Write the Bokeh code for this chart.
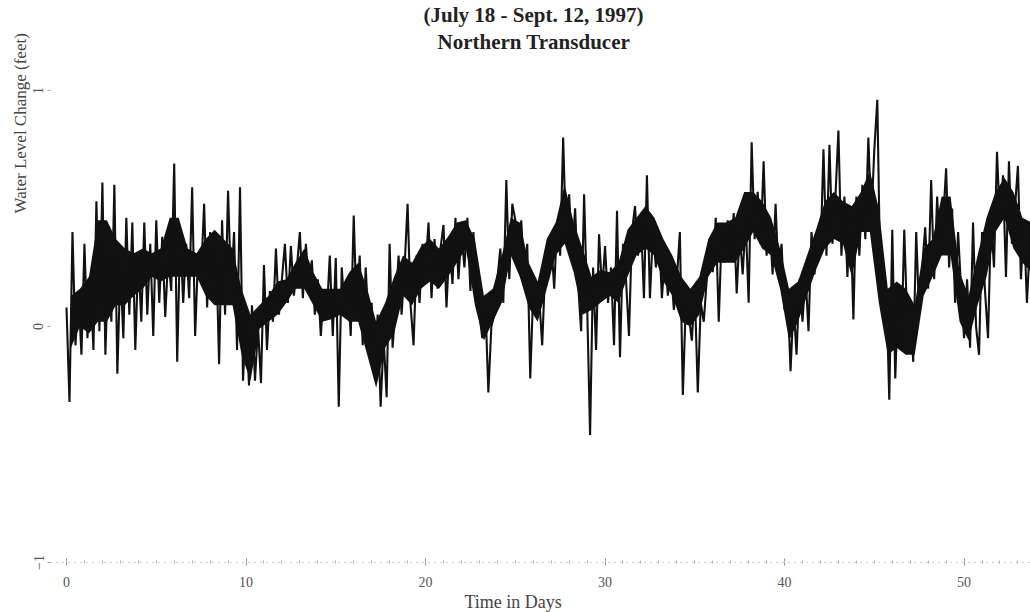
from bokeh.plotting import figure
from bokeh.models import FixedTicker, Range1d, Title
from bokeh.embed import file_html
from bokeh.resources import INLINE

# Water level change (feet), six readings per day (every 4 hours)
level_by_day = [
    [0.08, -0.32, 0.40, -0.08, 0.14, -0.12],   # day 0
    [0.35, -0.05, 0.20, -0.10, 0.53, -0.02],
    [0.61, -0.12, 0.30, 0.02, 0.60, -0.20],
    [0.25, -0.05, 0.46, 0.05, 0.44, -0.10],
    [0.30, 0.02, 0.44, 0.05, 0.35, -0.04],
    [0.45, 0.10, 0.38, 0.04, 0.30, 0.15],
    [0.69, -0.15, 0.40, 0.10, 0.35, 0.12],
    [0.59, -0.04, 0.31, 0.22, 0.52, 0.08],
    [0.40, 0.10, 0.35, -0.16, 0.45, 0.05],
    [0.575, 0.15, 0.40, -0.10, 0.59, -0.23],
    [0.05, -0.25, 0.09, -0.23, 0.00, -0.24],   # day 10
    [0.26, -0.10, 0.15, 0.02, 0.33, 0.05],
    [0.20, 0.35, 0.10, 0.34, 0.13, 0.25],
    [0.40, 0.12, 0.35, 0.18, 0.28, 0.05],
    [0.20, -0.04, 0.15, 0.05, 0.30, -0.04],
    [0.29, -0.34, 0.25, 0.05, 0.20, -0.04],
    [0.47, 0.05, 0.30, -0.08, 0.25, 0.00],
    [0.10, -0.20, 0.05, -0.34, -0.05, -0.30],
    [0.35, -0.09, 0.10, 0.30, 0.05, 0.25],
    [0.52, 0.09, -0.08, 0.30, 0.10, 0.35],
    [0.25, 0.44, 0.12, 0.37, 0.16, 0.33],      # day 20
    [0.43, 0.08, 0.35, 0.18, 0.46, 0.20],
    [0.40, 0.25, 0.46, 0.15, 0.40, 0.15],
    [0.05, -0.05, 0.10, -0.28, 0.00, 0.05],
    [0.20, 0.33, 0.10, 0.62, 0.20, 0.52],
    [0.45, 0.30, 0.45, 0.20, 0.35, -0.22],
    [0.15, 0.05, 0.12, -0.08, 0.25, 0.20],
    [0.37, 0.16, 0.44, 0.30, 0.80, 0.35],
    [0.56, 0.30, 0.50, 0.18, -0.02, 0.56],
    [0.10, -0.46, 0.25, -0.10, 0.39, 0.15],
    [0.34, 0.10, 0.25, -0.08, 0.49, -0.13],    # day 30
    [0.35, 0.20, -0.04, 0.40, 0.51, 0.30],
    [0.45, 0.12, 0.64, 0.12, 0.40, 0.25],
    [0.40, 0.12, 0.30, 0.13, 0.25, 0.07],
    [0.20, 0.40, -0.29, 0.10, 0.05, -0.06],
    [0.15, -0.28, 0.10, 0.02, 0.20, 0.37],
    [0.23, 0.46, 0.02, 0.40, 0.27, 0.45],
    [0.30, 0.48, 0.14, 0.40, 0.22, 0.45],
    [0.10, 0.78, 0.37, 0.57, 0.35, 0.70],
    [0.30, 0.45, 0.22, 0.52, 0.20, 0.35],
    [0.07, 0.15, -0.19, 0.10, -0.12, 0.20],    # day 40
    [0.02, 0.22, -0.02, 0.40, 0.22, 0.38],
    [0.30, 0.75, 0.30, 0.77, 0.35, 0.55],
    [0.83, 0.30, 0.55, 0.21, 0.50, 0.03],
    [0.55, 0.30, 0.60, 0.37, 0.80, 0.45],
    [0.75, 0.96, 0.20, 0.02, 0.16, -0.31],
    [0.41, -0.22, 0.15, -0.10, 0.41, 0.02],
    [0.09, -0.15, 0.40, 0.05, 0.25, 0.42],
    [0.16, 0.62, 0.20, 0.55, 0.30, 0.45],
    [0.67, 0.25, 0.50, 0.10, 0.40, 0.16],
    [-0.05, 0.20, -0.09, 0.44, 0.00, -0.12],   # day 50
    [0.40, 0.15, -0.05, 0.45, 0.25, 0.74],
    [0.44, 0.64, 0.21, 0.70, 0.35, 0.50],
    [0.68, 0.20, 0.45, 0.10, 0.35, 0.15],
]
readings_per_day = 6

# Dense (solid black) part of the trace, per half day: upper and lower edge (feet)
core_high = [
    0.13, 0.16, 0.21, 0.45, 0.45, 0.37, 0.33, 0.31, 0.33, 0.31,
    0.33, 0.46, 0.46, 0.33, 0.31, 0.37, 0.41, 0.37, 0.33, 0.16,
    0.05, 0.09, 0.13, 0.19, 0.20, 0.27, 0.33, 0.23, 0.16, 0.16,
    0.16, 0.23, 0.27, 0.16, 0.02, 0.10, 0.21, 0.30, 0.27, 0.34,
    0.37, 0.33, 0.38, 0.44, 0.45, 0.37, 0.13, 0.16, 0.30, 0.46,
    0.44, 0.27, 0.19, 0.37, 0.44, 0.60, 0.44, 0.33, 0.21, 0.24,
    0.23, 0.27, 0.41, 0.46, 0.51, 0.46, 0.37, 0.30, 0.21, 0.16,
    0.21, 0.37, 0.44, 0.44, 0.46, 0.57, 0.57, 0.53, 0.46, 0.33,
    0.16, 0.19, 0.30, 0.41, 0.53, 0.57, 0.53, 0.51, 0.57, 0.66,
    0.50, 0.16, 0.19, 0.16, 0.09, 0.33, 0.37, 0.55, 0.55, 0.23,
    0.13, 0.30, 0.46, 0.57, 0.63, 0.57, 0.46, 0.44,
]
core_low = [
    -0.09, 0.00, -0.03, 0.02, 0.02, 0.09, 0.09, 0.13, 0.16, 0.21,
    0.19, 0.21, 0.21, 0.21, 0.21, 0.13, 0.09, 0.09, 0.09, -0.12,
    -0.23, -0.01, 0.02, 0.05, 0.10, 0.16, 0.16, 0.09, 0.02, 0.03,
    0.05, 0.02, 0.02, -0.12, -0.26, -0.09, -0.03, 0.13, 0.09, 0.16,
    0.19, 0.16, 0.21, 0.27, 0.33, 0.09, -0.06, 0.02, 0.10, 0.30,
    0.21, 0.08, 0.02, 0.16, 0.30, 0.35, 0.23, 0.05, 0.07, 0.10,
    0.13, 0.10, 0.21, 0.30, 0.33, 0.30, 0.19, 0.13, 0.02, 0.00,
    0.05, 0.21, 0.27, 0.27, 0.27, 0.33, 0.40, 0.33, 0.30, 0.16,
    -0.06, 0.02, 0.13, 0.24, 0.33, 0.37, 0.35, 0.21, 0.40, 0.40,
    0.10, -0.12, -0.09, -0.12, -0.12, 0.13, 0.21, 0.30, 0.30, 0.02,
    -0.06, 0.09, 0.21, 0.40, 0.46, 0.33, 0.27, 0.23,
]

level = [v for row in level_by_day for v in row]
days = [i / readings_per_day for i in range(len(level))]
core_days = [0.25 + 0.5 * k for k in range(len(core_high))]

x_ticks = [0, 10, 20, 30, 40, 50]
y_ticks = [-1, 0, 1]

title_line1 = "(July 18 - Sept. 12, 1997)"
title_line2 = "Northern Transducer"
x_title = "Time in Days"
y_title = "Water Level Change (feet)"

SERIF = "Liberation Serif"

p = figure(width=1030, height=612, output_backend="svg", toolbar_location=None,
           x_range=Range1d(-0.891, 53.70), y_range=Range1d(-1.0, 1.152),
           min_border_left=50, min_border_right=0, min_border_top=52, min_border_bottom=50)
p.outline_line_color = None
p.grid.visible = False
p.background_fill_color = "white"
p.border_fill_color = "white"
p.title.visible = False

p.varea(x=core_days, y1=core_low, y2=core_high, fill_color="#111111", fill_alpha=1.0)
p.line(days, level, line_color="#111111", line_width=2.1)

# x axis (dotted, as in the scan)
xa = p.xaxis[0]
xa.ticker = FixedTicker(ticks=x_ticks, minor_ticks=list(range(0, 54)))
xa.axis_line_color = "#9a9a9a"
xa.axis_line_dash = "1 5"
xa.axis_line_width = 1
xa.major_tick_in = 4
xa.major_tick_out = 3
xa.major_tick_line_color = "#8a8a8a"
xa.minor_tick_in = 2
xa.minor_tick_out = 1
xa.minor_tick_line_color = "#b0b0b0"
xa.major_label_standoff = 11
xa.major_label_text_font = SERIF
xa.major_label_text_font_size = "14px"
xa.major_label_text_color = "#555555"

ya = p.yaxis[0]
ya.ticker = FixedTicker(ticks=y_ticks)
ya.axis_line_color = None
ya.major_tick_in = 0
ya.major_tick_out = 3
ya.major_tick_line_color = "#aaaaaa"
ya.minor_tick_line_color = None
ya.major_label_standoff = 4
ya.major_label_orientation = "vertical"
ya.major_label_text_font = SERIF
ya.major_label_text_font_size = "14px"
ya.major_label_text_color = "#555555"

# titles (first added sits closest to the frame); offsets measured from the frame edge
p.add_layout(Title(text=title_line2, align="left", offset=387, standoff=2,
                   text_font=SERIF, text_font_style="bold", text_font_size="21px",
                   text_color="#222222"), "above")
p.add_layout(Title(text=title_line1, align="left", offset=373, standoff=0,
                   text_font=SERIF, text_font_style="bold", text_font_size="21px",
                   text_color="#222222"), "above")
p.add_layout(Title(text=x_title, align="left", offset=414, standoff=0,
                   text_font=SERIF, text_font_style="normal", text_font_size="18px",
                   text_color="#444444"), "below")
p.add_layout(Title(text=y_title, align="left", offset=349, standoff=2,
                   text_font=SERIF, text_font_style="normal", text_font_size="17px",
                   text_color="#444444"), "left")

open("out.html", "w").write(file_html(p, INLINE))
